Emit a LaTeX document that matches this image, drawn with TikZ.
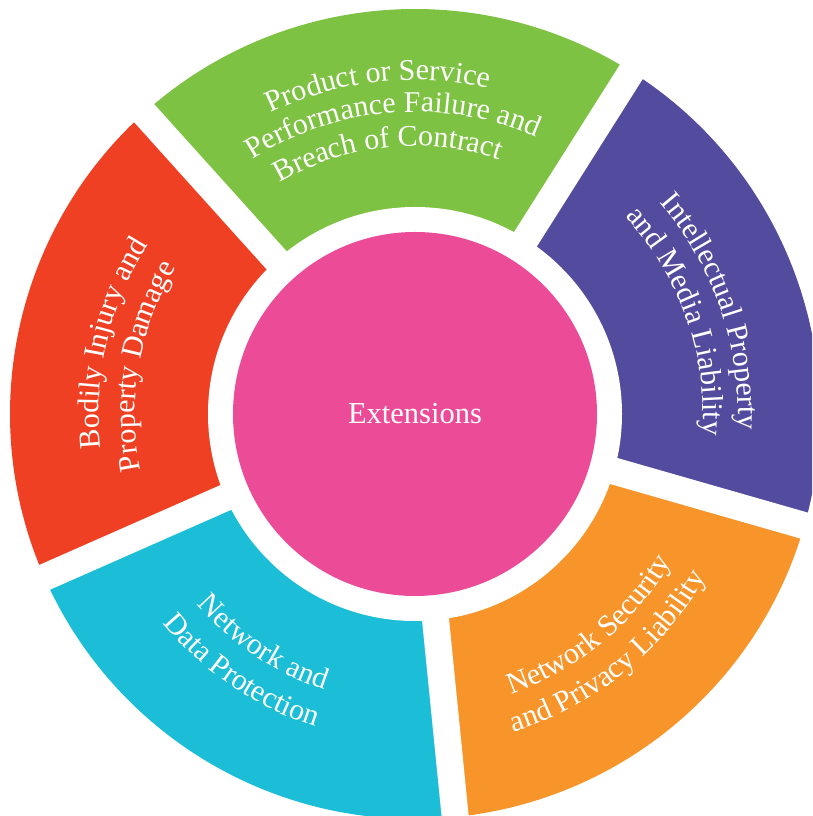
\documentclass[tikz,border=0pt]{standalone}
\usepackage{fontspec}
\setmainfont{Liberation Serif}
\usetikzlibrary{calc,decorations.text}
\definecolor{cgreen}{HTML}{7DC242}
\definecolor{cred}{HTML}{F04023}
\definecolor{cpurple}{HTML}{534B9E}
\definecolor{corange}{HTML}{F7952B}
\definecolor{ccyan}{HTML}{1BBDD7}
\definecolor{cpink}{HTML}{EC4C97}
\newcommand\lfont{\color{white}\fontsize{30}{30}\selectfont}
\tikzset{
  wedge/.style={draw=none},
  gapline/.style={draw=white, line width=27pt},
  cwlabel/.style n args={3}{decorate, decoration={text along path, text align=center, text={|\lfont|#3}},
     insert path={($(C)+(#1+60:#2)$) arc[start angle=#1+60, end angle=#1-60, radius=#2]}},
  ccwlabel/.style n args={3}{decorate, decoration={text along path, text align=center, text={|\lfont|#3}},
     insert path={($(C)+(#1-60:#2)$) arc[start angle=#1-60, end angle=#1+60, radius=#2]}},
}
\begin{document}
\begin{tikzpicture}[x=1pt,y=1pt]
\useasboundingbox (0,0) rectangle (812,816);
\clip (0,0) rectangle (812,816);
\coordinate (C) at (415,402);
\def\R{405}
% wedges
\fill[cgreen]  (C) -- ($(C)+(57.7:\R)$) arc[start angle=57.7, end angle=132, radius=\R] -- cycle;
\fill[cred]    (C) -- ($(C)+(132:\R)$) arc[start angle=132, end angle=203.8, radius=\R] -- cycle;
\fill[ccyan]   (C) -- ($(C)+(203.8:\R)$) arc[start angle=203.8, end angle=275.7, radius=\R] -- cycle;
\fill[corange] (C) -- ($(C)+(275.7:\R)$) arc[start angle=275.7, end angle=344, radius=\R] -- cycle;
\fill[cpurple] (C) -- ($(C)+(344:\R)$) arc[start angle=344, end angle=417.7, radius=\R] -- cycle;
% gaps
\coordinate (g1) at ($(C)+(57.7:460)$);
\coordinate (g2) at ($(C)+(132:460)$);
\coordinate (g3) at ($(C)+(203.8:460)$);
\coordinate (g4) at ($(C)+(275.7:460)$);
\coordinate (g5) at ($(C)+(344:460)$);
\foreach \g in {g1,g2,g3,g4,g5} \draw[gapline] (C) -- (\g);
\fill[white] (C) circle[radius=207];
\node[circle, fill=cpink, minimum size=364pt, inner sep=0pt, text=white, font=\fontsize{30.5}{32}\selectfont] (ext) at (C) {Extensions};
% labels
\path[cwlabel={96.5}{334}{Product or Service}];
\path[cwlabel={94.5}{302}{Performance Failure and}];
\path[cwlabel={96}{268}{Breach of Contract}];
\path[cwlabel={167}{316}{Bodily Injury and}];
\path[cwlabel={170}{280}{Property Damage}];
\path[cwlabel={19}{323}{Intellectual Property}];
\path[cwlabel={19.5}{288}{and Media Liability}];
\path[ccwlabel={-50.5}{296}{Network Security}];
\path[ccwlabel={-51}{333}{and Privacy Liability}];
\path[ccwlabel={236.5}{290}{Network and}];
\path[ccwlabel={236}{328}{Data Protection}];
\end{tikzpicture}
\end{document}
